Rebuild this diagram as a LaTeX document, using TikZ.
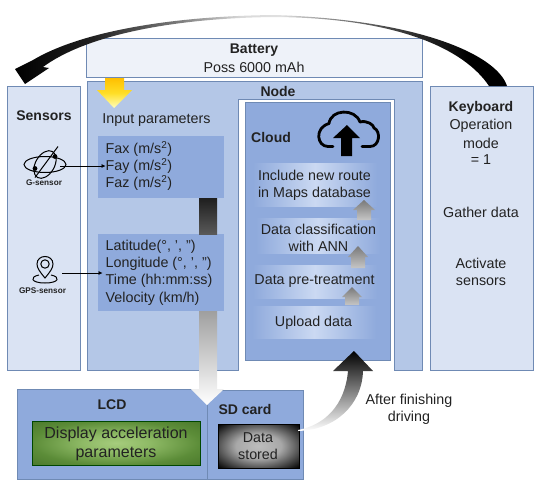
\documentclass[tikz,border=0pt]{standalone}
\usepackage{fontspec}
\setmainfont{Liberation Sans}
\usetikzlibrary{arrows.meta}
\definecolor{ln}{HTML}{6F8AB4}
\definecolor{pale}{HTML}{DAE3F3}
\definecolor{mid}{HTML}{B4C7E7}
\definecolor{deep}{HTML}{8FAADC}
\definecolor{batt}{HTML}{EEF2F9}
\definecolor{txt}{HTML}{222222}
\definecolor{band}{HTML}{CBD9F2}
\pgfdeclarehorizontalshading{arcsh}{100bp}{rgb(0bp)=(0,0,0);rgb(25bp)=(0,0,0);rgb(33bp)=(.13,.13,.13);rgb(42bp)=(.5,.5,.5);rgb(48bp)=(.85,.85,.85);rgb(52bp)=(.88,.88,.88);rgb(58bp)=(.5,.5,.5);rgb(65bp)=(.2,.2,.2);rgb(71bp)=(0,0,0);rgb(100bp)=(0,0,0)}
\pgfdeclareradialshading{stepsh}{\pgfpointorigin}{rgb(0bp)=(.98,.985,1);rgb(10bp)=(.90,.93,.98);rgb(25bp)=(.75,.81,.93);rgb(50bp)=(.75,.81,.93)}
\pgfdeclareradialshading{datash}{\pgfpointorigin}{rgb(0bp)=(.74,.74,.74);rgb(14bp)=(.66,.66,.66);rgb(24bp)=(.35,.35,.35);rgb(34bp)=(.04,.04,.04);rgb(50bp)=(0,0,0)}
\pgfdeclareradialshading{lcdsh}{\pgfpointorigin}{rgb(0bp)=(.65,.80,.49);rgb(10bp)=(.56,.73,.40);rgb(25bp)=(.36,.55,.22);rgb(36bp)=(.29,.47,.17);rgb(50bp)=(.29,.47,.17)}
\tikzset{
 x=1pt,y=-1pt,
 every node/.style={text=txt,font=\fontsize{14.3}{17}\selectfont,align=center,inner sep=0pt},
 panel/.style={draw=ln,line width=0.9pt},
 head/.style={font=\fontsize{14}{17}\selectfont\bfseries},
 small/.style={font=\fontsize{8.2}{10}\selectfont\bfseries},
 bandbox/.style={shade,left color=deep,right color=deep,middle color=band,minimum width=124pt},
 stepbox/.style={path fading=east,shade,shading=stepsh,minimum width=100pt},
 icon/.style={draw=black,line width=1pt,fill=none},
 wire/.style={draw=black,line width=0.5pt,-{Latex[length=4pt,width=4pt]}},
 up/.style={shade,top color=gray!95!black,bottom color=gray!45,draw=none},
}
\begin{document}
\begin{tikzpicture}
\useasboundingbox (0,0) rectangle (550,491);
% panels
\path[panel,fill=batt] (86,38) rectangle (422,77);
\node (battery) [head] at (254,50) {Battery};
\node (poss) at (254,67) {Poss 6000 mAh};
\path[panel,fill=mid] (87,81) -- (422,81) -- (422,370) -- (394,370) -- (394,99) -- (238,99) -- (238,370) -- (87,370) -- cycle;
\path[panel,fill=deep] (245,102) rectangle (390,360);
\node (node) [head] at (278,91) {Node};
\path[panel,fill=pale] (7,86) rectangle (80,370);
\path[panel,fill=pale] (430,86) rectangle (533,370);
\node (sensors) [head] at (44,116) {Sensors};
\node (kb) [head] at (481,108) {Keyboard};
\node (op) at (481,126) {Operation};
\node (mo) at (481,143) {mode};
\node (eq) at (481,160) {= 1};
\node (gd) at (481,212) {Gather data};
\node (as) at (481,272) {Activate\\sensors};
% yellow arrow
\shade[top color=orange!50!yellow,bottom color=yellow!25!white,middle color=orange!30!yellow!85!white]
 (105,78) -- (124,78) -- (124,90) -- (132,90) -- (114,108) -- (97,90) -- (105,90) -- cycle;
\node (ip) at (156.5,120) {Input parameters};
% parameter boxes
\fill[deep] (98,136) rectangle (224,198);
\node (p1) [anchor=west] at (105.5,149) {Fax (m/s\textsuperscript{2})};
\node (p2) [anchor=west] at (105.5,166) {Fay (m/s\textsuperscript{2})};
\node (p3) [anchor=west] at (105.5,183) {Faz (m/s\textsuperscript{2})};
\fill[deep] (98,234) rectangle (224,311);
\node (q1) [anchor=west] at (105.5,247) {Latitude(°, ', ")};
\node (q2) [anchor=west] at (105.5,264) {Longitude (°, ', ")};
\node (q3) [anchor=west] at (105.5,281) {Time (hh:mm:ss)};
\node (q4) [anchor=west] at (105.5,299) {Velocity (km/h)};
% LCD and SD
\path[panel,fill=deep] (17,389) rectangle (207,479);
\path[panel,fill=deep] (207,390) rectangle (303,479);
\node (lcd) [head] at (112,405) {LCD};
\node (sd) [head] at (245,409) {SD card};
\path[draw=black!30!green!40!black,line width=.6pt,shade,shading=lcdsh] (32,421) rectangle (200,465);
\node (disp) [font=\fontsize{16}{19}\selectfont] at (116,443.5) {Display acceleration\\parameters};
\path[draw=black,line width=.6pt,shade,shading=datash] (218,424) rectangle (299,468);
\node (stored) at (258,446.5) {Data\\stored};
% vertical arrow through boxes
\shade[top color=black!88,bottom color=black!65] (199,198) rectangle (217,234);
\shade[top color=gray!75,bottom color=white] (199,311) -- (217,311) -- (217,389) -- (224,389) -- (207,405) -- (191,389) -- (199,389) -- cycle;
% Cloud steps
\node (b1) [bandbox,minimum height=43pt] at (315,185) {};
\node (b2) [bandbox,minimum height=35pt] at (318,236) {};
\node (b3) [bandbox,minimum height=33pt] at (315,281.5) {};
\node (b4) [bandbox,minimum height=32pt] at (314,322) {};
\node (t1) at (314.5,185.5) {Include new route\\in Maps database};
\node (t2) at (318.5,237.5) {Data classification\\with ANN};
\node (t3) at (314.5,281) {Data pre-treatment};
\node (t4) at (313.5,323) {Upload data};
\node (cloud) [head,anchor=west] at (251,137) {Cloud};
\path[up] (357,220) -- (357,210) -- (353,210) -- (364,200) -- (375,210) -- (371,210) -- (371,220) -- cycle;
\path[up] (351,268) -- (351,257) -- (348,257) -- (358,246) -- (368,257) -- (365,257) -- (365,268) -- cycle;
\path[up] (345,305) -- (345,297) -- (342,297) -- (352,287) -- (362,297) -- (359,297) -- (359,305) -- cycle;
% cloud icon
\draw[line width=2.8pt,black,line cap=round,line join=round] (333,146.5) -- (328,146.5) .. controls (317,146.5) and (314,128) .. (329,123.5) .. controls (331,109) and (355,108) .. (360,122) .. controls (367,120) and (374,125) .. (374,128) .. controls (381,131) and (380,146.5) .. (370,146.5) -- (362,146.5);
\fill[black] (341,156) -- (341,138) -- (333,138) -- (347,125) -- (360,138) -- (352,138) -- (352,156) -- cycle;
% big curved arrow, top
\shade[shading=arcsh]
 (507,86) .. controls (497,55) and (420,20) .. (275,15)
 .. controls (170,16) and (80,32) .. (33,60)
 -- (15,69) -- (25,84) -- (49,68) -- (43,67)
 .. controls (85,36) and (170,18) .. (275,17)
 .. controls (400,18) and (465,50) .. (489,86) -- cycle;
% curved arrow SD to cloud
\shade[bottom color=white,top color=black]
 (298,430) .. controls (325,425) and (345,405) .. (348,371) -- (333,371) -- (354,351) -- (373,371) -- (363,371)
 .. controls (362,405) and (335,430) .. (298,431) -- cycle;
\node (after) at (409,401) {After finishing};
\node (driving) at (409,418) {driving};
% sensor icons
\begin{scope}[shift={(45,164.5)}]
\draw[icon] (0,0) ellipse (21pt and 8pt);
\draw[icon,rotate=-30] (0,0) ellipse (9.5pt and 15pt);
\draw[icon] (-10,13) -- (13,-18);
\fill (10,-8) circle (2.4pt) (-10,4) circle (2.4pt);
\end{scope}
\node (gs) [small] at (44,183) {G-sensor};
\begin{scope}[shift={(45,265)}]
\draw[icon] (0,13) .. controls (-5,7) and (-8,3) .. (-8,-1) .. controls (-8,-11) and (8,-11) .. (8,-1) .. controls (8,3) and (5,7) .. (0,13) -- cycle;
\draw[icon] (0,-1) circle (4.2pt);
\draw[icon] (-6,10) .. controls (-16,12) and (-14,18) .. (0,18) .. controls (14,18) and (16,12) .. (6,10);
\end{scope}
\node (gps) [small] at (42.5,291) {GPS-sensor};
\coordinate (g) at (60,166);
\coordinate (h) at (62,273);
\coordinate (hh) at (102.5,273);
\draw[wire] (g) -- (p2.west);
\draw[wire] (h) -- (hh);
\end{tikzpicture}
\end{document}
